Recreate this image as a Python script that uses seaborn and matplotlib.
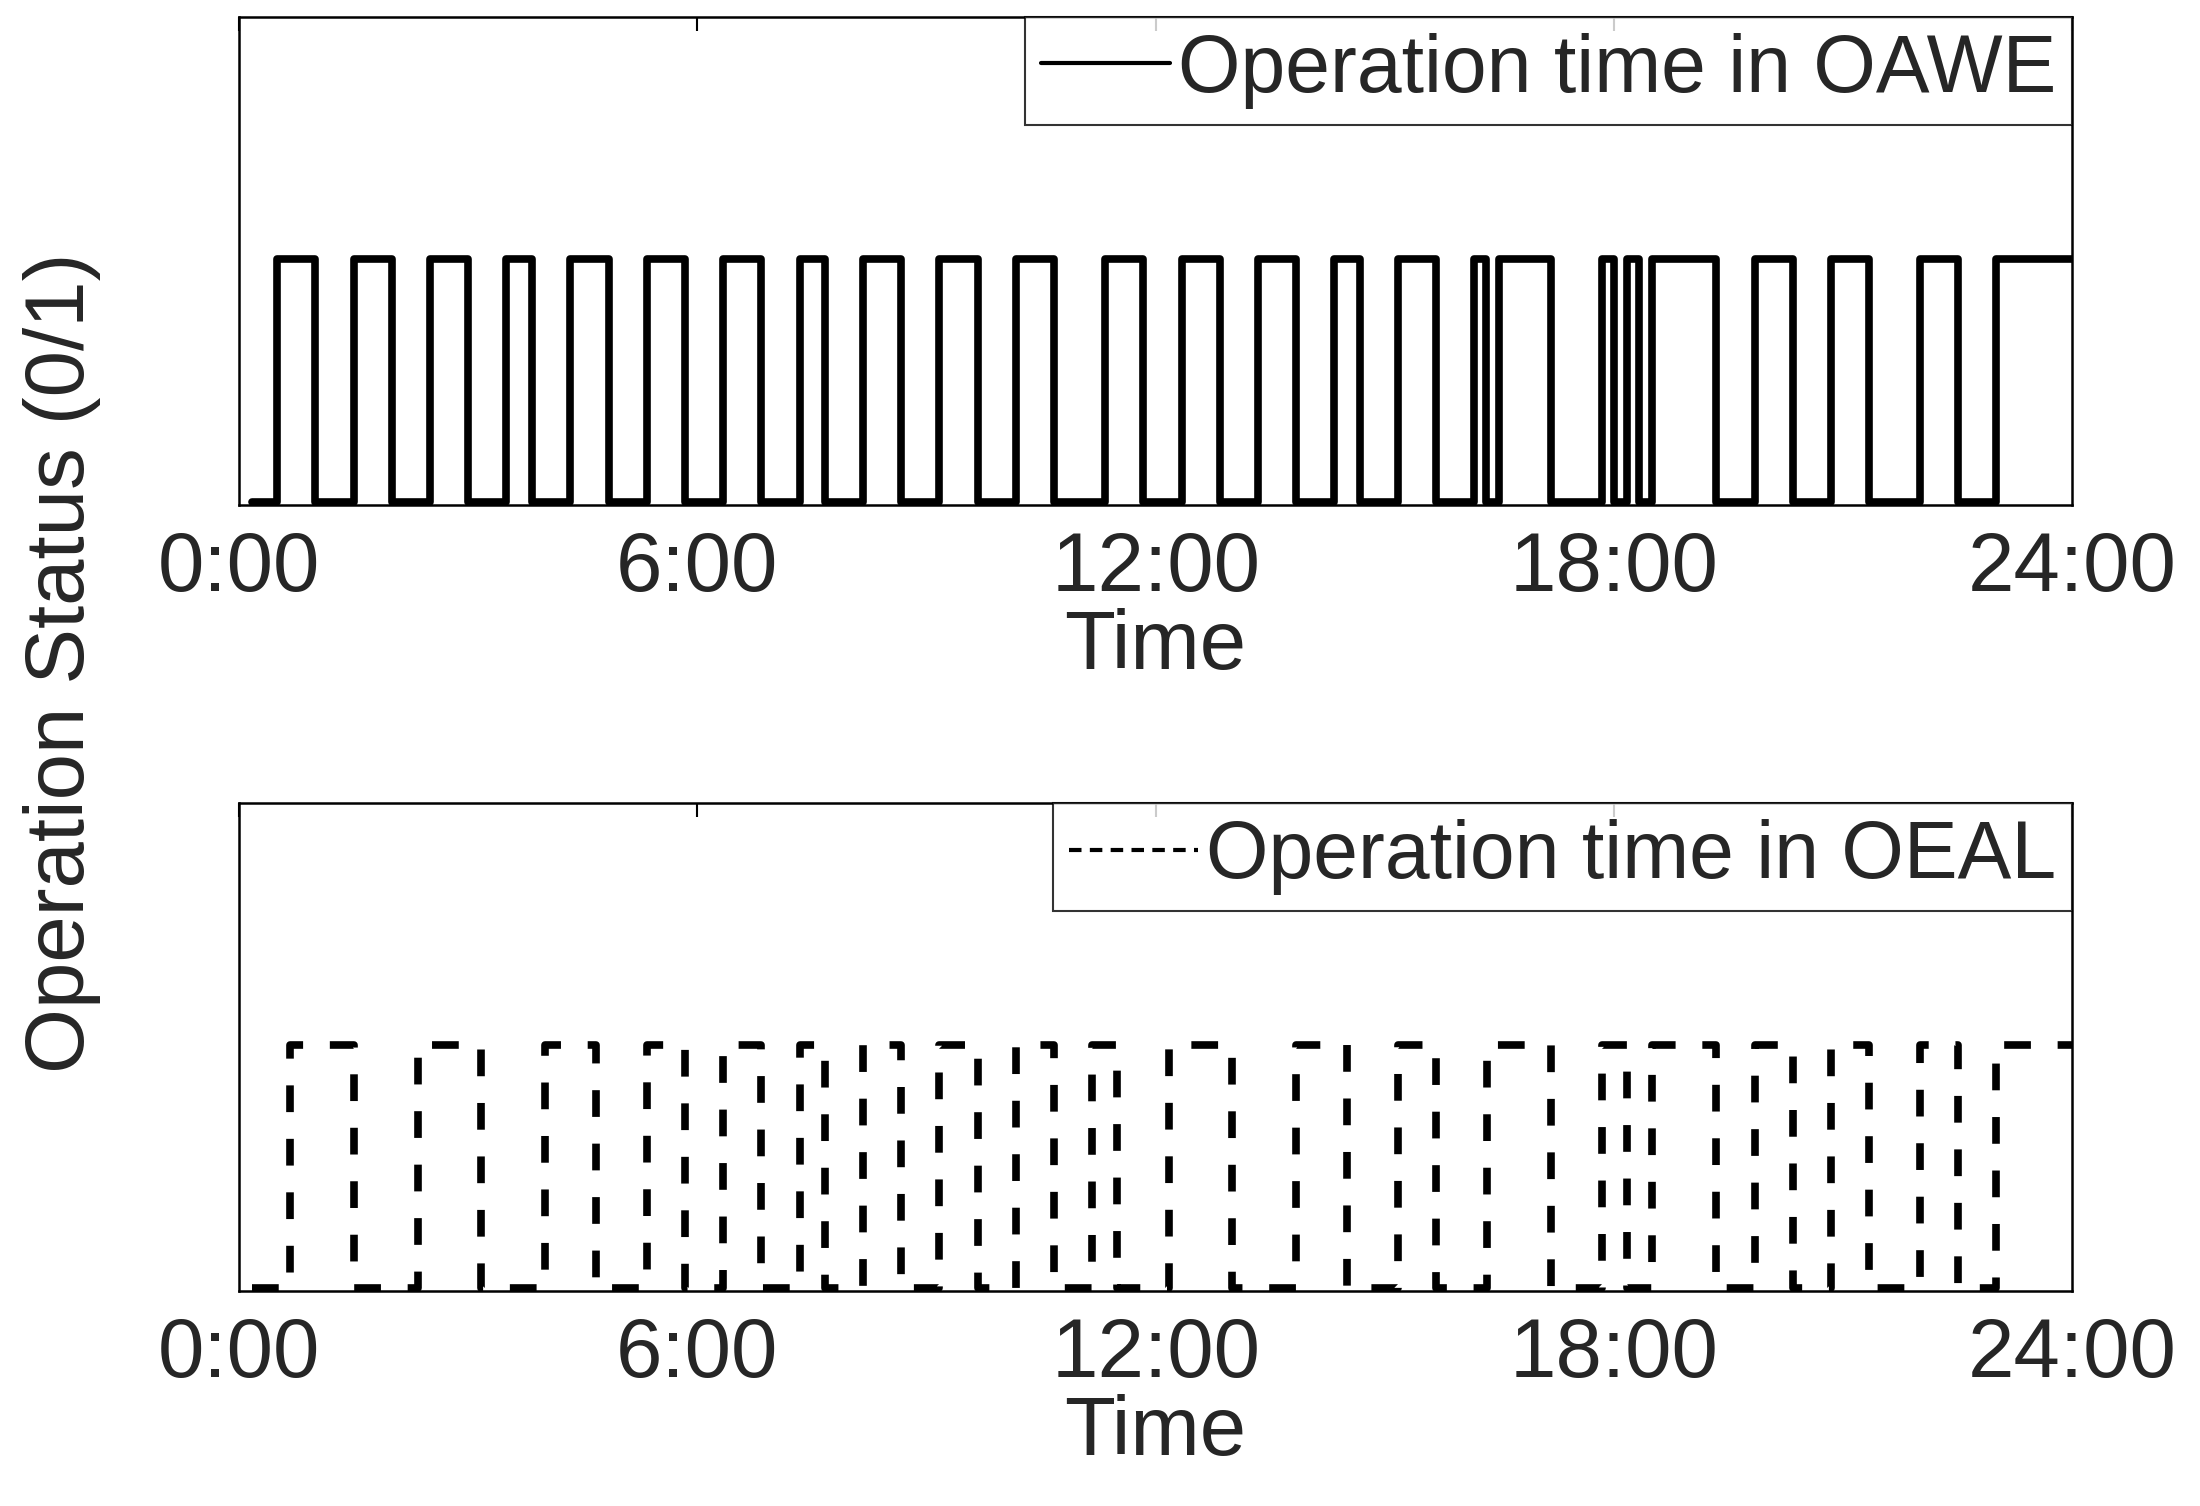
import numpy as np
import pandas as pd
import seaborn as sns
import matplotlib.pyplot as plt

# switching times (hours); state alternates starting from 0
oawe_start = 0.17
oawe_switch = [0.5, 1.0, 1.5, 2.0, 2.5, 3.0, 3.5, 3.84, 4.34, 4.84, 5.34, 5.84,
               6.34, 6.84, 7.34, 7.67, 8.17, 8.67, 9.17, 9.67, 10.17, 10.67,
               11.34, 11.84, 12.34, 12.84, 13.34, 13.84, 14.34, 14.67, 15.17,
               15.67, 16.17, 16.33, 16.5, 17.17, 17.84, 18.0, 18.17, 18.33,
               18.5, 19.33, 19.84, 20.34, 20.84, 21.34, 22.0, 22.5, 23.0]
oeal_start = 0.17
oeal_switch = [0.67, 1.5, 2.34, 3.17, 4.0, 4.67, 5.34, 5.84, 6.33, 6.84, 7.34,
               7.67, 8.17, 8.67, 9.17, 9.67, 10.17, 10.67, 11.17, 11.5, 12.17,
               13.0, 13.84, 14.5, 15.17, 15.67, 16.34, 17.17, 17.84, 18.17,
               18.5, 19.33, 19.84, 20.34, 20.84, 21.34, 22.0, 22.5, 23.0]
end_time = 24.0
tick_hours = [0, 6, 12, 18, 24]
tick_labels = ['0:00', '6:00', '12:00', '18:00', '24:00']


def to_frame(start, switches):
    t = [start] + switches + [end_time]
    s = [0] + [(i + 1) % 2 for i in range(len(switches))]
    s = s + [s[-1]]
    return pd.DataFrame({'time': t, 'status': s})


sns.set_theme(style='white')
plt.rcParams['font.family'] = ['Liberation Sans', 'DejaVu Sans']

fig = plt.figure(figsize=(22, 15.06), dpi=100)
ax1 = fig.add_axes([0.1086, 0.665, 0.8334, 0.324])
ax2 = fig.add_axes([0.1086, 0.143, 0.8334, 0.324])

lw = 5.5
d1 = to_frame(oawe_start, oawe_switch)
d2 = to_frame(oeal_start, oeal_switch)
sns.lineplot(data=d1, x='time', y='status', ax=ax1, color='black', lw=lw,
             drawstyle='steps-post', label='Operation time in OAWE')
sns.lineplot(data=d2, x='time', y='status', ax=ax2, color='black', lw=lw,
             drawstyle='steps-post', label='Operation time in OEAL',
             dashes=False)
ax2.lines[0].set_dashes((3.5, 3.5))

for ax in (ax1, ax2):
    ax.set_xlim(0, 24)
    ax.set_ylim(-0.01, 2.0)
    ax.set_yticks([])
    ax.set_xticks(tick_hours)
    ax.set_xticklabels(tick_labels, fontsize=60)
    ax.tick_params(axis='x', direction='in', length=10, width=1.5, top=True,
                   pad=18, color='black')
    for sp in ax.spines.values():
        sp.set_color('black')
        sp.set_linewidth(1.8)
    ax.set_xlabel('Time', fontsize=60, labelpad=0)
    ax.set_ylabel('')
    leg = ax.legend(loc='upper right', fontsize=58, frameon=True, fancybox=False,
                    borderaxespad=0, handlelength=1.6, handletextpad=0.1,
                    borderpad=0.2)
    leg.get_frame().set_edgecolor('black')
    leg.get_frame().set_linewidth(1.5)
    for h in leg.get_lines():
        h.set_linewidth(3)
ax2.get_legend().get_lines()[0].set_dashes((3, 2))

fig.text(0.028, 0.56, 'Operation Status (0/1)', rotation=90, fontsize=60,
         va='center', ha='center')

fig.savefig('out.png', dpi=100)
